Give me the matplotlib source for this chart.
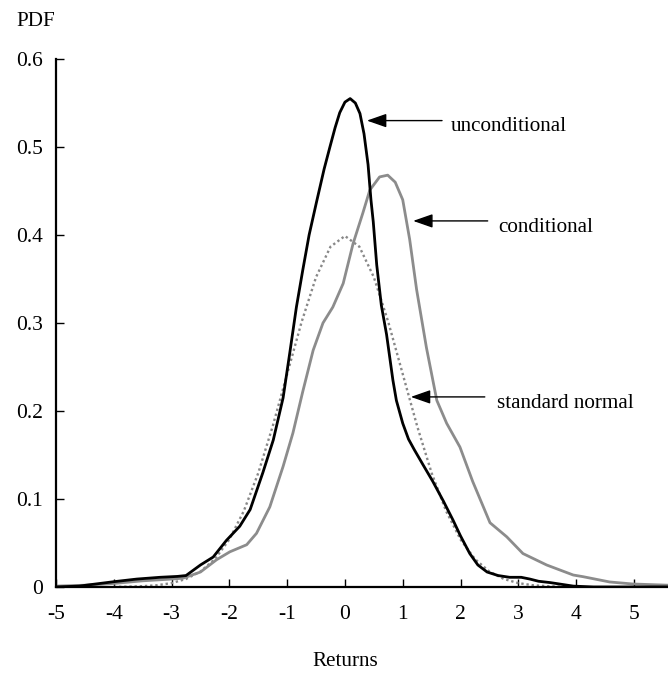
import matplotlib
matplotlib.use('Agg')
import matplotlib.pyplot as plt
import numpy as np

plt.rcParams['font.family'] = ['Liberation Serif', 'DejaVu Serif']

#%% data
x_unc = [-5.0, -4.6, -4.0, -3.6, -3.2, -2.9, -2.75, -2.5, -2.28, -2.05, -1.82,
         -1.64, -1.42, -1.24, -1.07, -0.95, -0.84, -0.73, -0.62, -0.49, -0.36,
         -0.26, -0.17, -0.09, 0.0, 0.09, 0.18, 0.26, 0.33, 0.40, 0.45, 0.49,
         0.55, 0.63, 0.72, 0.83, 0.89, 1.0, 1.1, 1.2, 1.35, 1.52, 1.7, 1.87,
         2.0, 2.16, 2.3, 2.46, 2.65, 2.85, 3.05, 3.2, 3.35, 3.55, 3.75, 3.95,
         4.3, 5.6]
y_unc = [0.0, 0.001, 0.006, 0.009, 0.011, 0.012, 0.013, 0.025, 0.034, 0.053,
         0.069, 0.088, 0.13, 0.167, 0.215, 0.268, 0.318, 0.36, 0.40, 0.438,
         0.475, 0.50, 0.522, 0.539, 0.551, 0.555, 0.55, 0.538, 0.515, 0.48,
         0.44, 0.415, 0.366, 0.32, 0.287, 0.235, 0.212, 0.186, 0.168, 0.156,
         0.139, 0.12, 0.098, 0.076, 0.058, 0.038, 0.025, 0.017, 0.013, 0.011,
         0.011, 0.009, 0.0065, 0.005, 0.003, 0.001, 0.0, 0.0]

x_cond = [-5.0, -4.5, -4.0, -3.5, -3.0, -2.8, -2.5, -2.22, -1.99, -1.70, -1.53,
          -1.30, -1.07, -0.90, -0.73, -0.55, -0.38, -0.21, -0.03, 0.14, 0.31,
          0.43, 0.6, 0.74, 0.87, 1.0, 1.12, 1.24, 1.41, 1.59, 1.76, 1.99, 2.21,
          2.51, 2.80, 3.08, 3.49, 3.95, 4.12, 4.58, 4.98, 5.6]
y_cond = [0.001, 0.002, 0.004, 0.007, 0.009, 0.010, 0.017, 0.031, 0.040, 0.048,
          0.061, 0.091, 0.137, 0.175, 0.222, 0.269, 0.30, 0.318, 0.345, 0.39,
          0.425, 0.451, 0.466, 0.468, 0.46, 0.44, 0.395, 0.338, 0.272, 0.212,
          0.186, 0.159, 0.12, 0.073, 0.057, 0.038, 0.025, 0.0136, 0.0117,
          0.0057, 0.0034, 0.002]

x_norm = [-4.0, -3.75, -3.5, -3.25, -3.0, -2.75, -2.5, -2.25, -2.0, -1.75, -1.5,
          -1.25, -1.0, -0.75, -0.5, -0.25, 0.0, 0.25, 0.5, 0.75, 1.0, 1.25, 1.5,
          1.75, 2.0, 2.25, 2.5, 2.75, 3.0, 3.25, 3.5, 3.75, 4.0]
y_norm = [0.0001, 0.0004, 0.0009, 0.002, 0.0044, 0.0091, 0.0175, 0.0317, 0.054,
          0.0863, 0.1295, 0.1827, 0.242, 0.3011, 0.3521, 0.3867, 0.3989, 0.3867,
          0.3521, 0.3011, 0.242, 0.1827, 0.1295, 0.0863, 0.054, 0.0317, 0.0175,
          0.0091, 0.0044, 0.002, 0.0009, 0.0004, 0.0001]

x_ticks = [-5, -4, -3, -2, -1, 0, 1, 2, 3, 4, 5]
y_ticks = [0, 0.1, 0.2, 0.3, 0.4, 0.5, 0.6]
y_ticklabels = ['0', '0.1', '0.2', '0.3', '0.4', '0.5', '0.6']

# (label, arrow tip, arrow tail, text position)
notes = [('unconditional', (0.38, 0.530), (1.68, 0.530), (1.83, 0.523)),
         ('conditional', (1.18, 0.416), (2.47, 0.416), (2.65, 0.409)),
         ('standard normal', (1.14, 0.216), (2.42, 0.216), (2.63, 0.209))]

#%%
fig = plt.figure(figsize=(6.68, 6.75), dpi=100)
ax = fig.add_axes([0.0838, 0.1304, 0.9162, 0.7822])

ax.plot(x_norm, y_norm, color='#888888', lw=1.7, ls=(0, (1, 1.2)))
ax.plot(x_cond, y_cond, color='#8c8c8c', lw=2.0)
ax.plot(x_unc, y_unc, color='black', lw=2.0)

for label, tip, tail, pos in notes:
    ax.annotate('', xy=tip, xytext=tail,
                arrowprops=dict(arrowstyle='-|>,head_length=1.0,head_width=0.35',
                                color='black', lw=1, mutation_scale=12,
                                shrinkA=0, shrinkB=0))
    ax.text(pos[0], pos[1], label, fontsize=15.2, va='center', ha='left')

ax.set_xlim(-5, 5.59)
ax.set_ylim(0, 0.6)
ax.set_xticks(x_ticks)
ax.set_xticklabels([str(t) for t in x_ticks])
ax.set_yticks(y_ticks)
ax.set_yticklabels(y_ticklabels)

for s in ['top', 'right']:
    ax.spines[s].set_visible(False)
for s in ['left', 'bottom']:
    ax.spines[s].set_linewidth(1.6)
ax.tick_params(direction='in', length=6, width=1, labelsize=15.5)
ax.tick_params(axis='x', pad=13)
ax.tick_params(axis='y', pad=9.5)

fig.text(0.025, 1 - 22 / 675, 'PDF', fontsize=15.2, va='center', ha='left')
fig.text(345 / 668, 1 - 662 / 675, 'Returns', fontsize=15.2, va='center', ha='center')

fig.savefig('out.png', dpi=100)
